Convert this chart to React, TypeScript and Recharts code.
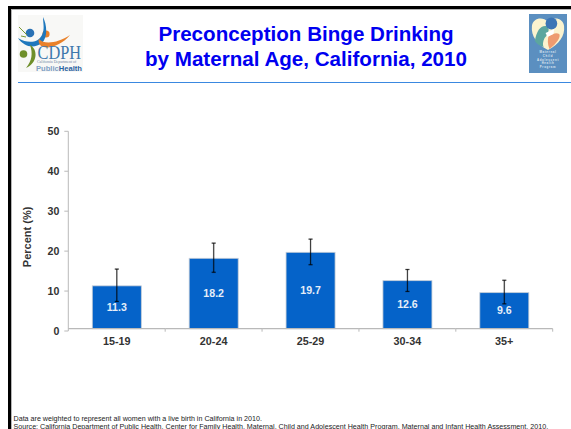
import React from 'react';
import { BarChart, Bar, XAxis, YAxis, ErrorBar, LabelList } from 'recharts';

const ageGroups = ['15-19', '20-24', '25-29', '30-34', '35+'];
const percents = [11.3, 18.2, 19.7, 12.6, 9.6];
const lowerBounds = [7.4, 14.7, 16.6, 9.9, 6.8];
const upperBounds = [15.5, 22.0, 23.0, 15.4, 12.7];
const percentTicks = [0, 10, 20, 30, 40, 50];

const titleLines = ['Preconception Binge Drinking', 'by Maternal Age, California, 2010'];
const footnotes = [
  'Data are weighted to represent all women with a live birth in California in 2010.',
  'Source: California Department of Public Health, Center for Family Health, Maternal, Child and Adolescent Health Program, Maternal and Infant Health Assessment, 2010.',
];

const rows = ageGroups.map((age, i) => ({
  age,
  percent: percents[i],
  ci: [percents[i] - lowerBounds[i], upperBounds[i] - percents[i]],
}));

const FONT = '"Liberation Sans", Arial, sans-serif';
const AXIS_GRAY = '#b9b9b9';
const TEXT_DARK = '#333333';
const BAR_BLUE = '#0563c9';
const CHART_W = 571;
const CHART_H = 429;
const PLOT_LEFT = 68.3;
const PLOT_RIGHT = 552.7;
const PLOT_TOP = 131.3;
const PLOT_BOTTOM = 331;
const HALF_BAND = (PLOT_RIGHT - PLOT_LEFT) / ageGroups.length / 2;
// the category axis sits a little above the zero tick
const BASELINE_LIFT = 2.3;

function AgeTick({ x, payload }: any) {
  const base = PLOT_BOTTOM - BASELINE_LIFT;
  return (
    <g>
      <line x1={x - HALF_BAND} x2={x + HALF_BAND} y1={base} y2={base} stroke={AXIS_GRAY} strokeWidth={1.2} />
      <line x1={x + HALF_BAND} x2={x + HALF_BAND} y1={base} y2={base + 3} stroke={AXIS_GRAY} />
      <text x={x} y={344.6} textAnchor="middle" fontFamily={FONT} fontWeight="bold" fontSize={10.8} fill={TEXT_DARK}>
        {payload.value}
      </text>
    </g>
  );
}

function TrimmedBar({ x, y, width, height }: any) {
  return (
    <rect
      x={x}
      y={y}
      width={width}
      height={height - BASELINE_LIFT}
      fill={BAR_BLUE}
      stroke="#c4ccd6"
      strokeWidth={0.8}
    />
  );
}

function CdphLogo() {
  return (
    <svg width={65} height={57} viewBox="0 0 65 57" style={{ position: 'absolute', left: 18, top: 15 }}>
      <rect width={65} height={57} fill="#f8f8f6" />
      <circle cx={12} cy={18} r={4.3} fill="#2a72b5" />
      <circle cx={28} cy={19} r={3.6} fill="#e9812a" />
      <path d="M0 23 C10 29 20 28 24 20 C27 14 25 8 25 2 C29 10 30 22 24 28 C16 34 6 32 0 23 Z" fill="#1f78bd" />
      <path d="M21 24 C26 30 40 28 52 20 C44 30 30 35 23 31 C21 29 20 26 21 24 Z" fill="#e9812a" />
      <path d="M1 12 L9 20 M3 21 L8 22" stroke="#7a9a35" strokeWidth={1} />
      <circle cx={5.5} cy={39} r={3.8} fill="#6f8f2a" />
      <path d="M12 30 C20 34 20 48 8 53 C14 46 15 38 12 30 Z" fill="#6f8f2a" />
      <g transform="translate(19.5 44) scale(0.86 1)">
        <text fontFamily='"Liberation Serif", serif' fontSize={19} fill="#3d78ad">
          CDPH
        </text>
      </g>
      <text x={19} y={48.2} fontFamily='"Liberation Serif", serif' fontSize={3.9} fill="#6f89a5">
        California Department of
      </text>
      <text x={18} y={55.6} fontFamily={FONT} fontWeight="bold" fontSize={7.6}>
        <tspan fill="#7f9fc4">Public</tspan>
        <tspan fill="#2a62a0">Health</tspan>
      </text>
    </svg>
  );
}

function McahLogo() {
  return (
    <svg width={38} height={59} viewBox="0 0 39 59" preserveAspectRatio="none" style={{ position: 'absolute', left: 529, top: 14 }}>
      <rect width={39} height={59} fill="#5b8fc0" />
      <path d="M19.5 36 C8 30 2 22 3 12 C4 4 14 2 19.5 8 C25 2 35 4 36 12 C37 22 31 30 19.5 36 Z" fill="#fbf3cf" />
      <path d="M6 27 C8 16 12 11 18 12 C22 14 20 20 16 24 C14 28 14 31 15 33 C11 32 8 30 6 27 Z" fill="#5ca69f" />
      <circle cx={23} cy={9.5} r={6} fill="#3d75b5" />
      <path d="M20 22 C24 20 28 18 31 20 C33 23 28 30 21 35 C19 30 19 26 20 22 Z" fill="#ee9b70" />
      <path d="M17 19 L26 15 L25 20 L19 23 Z" fill="#ffffff" />
      {['Maternal', 'Child', 'Adolescent', 'Health', 'Program'].map((word, i) => (
        <text
          key={word}
          x={19.5}
          y={39.5 + i * 3.6}
          textAnchor="middle"
          fontFamily={FONT}
          fontWeight="bold"
          fontSize={2.9}
          letterSpacing={0.7}
          fill="#dfe7f0"
        >
          {word}
        </text>
      ))}
    </svg>
  );
}

export default function App() {
  return (
    <div style={{ position: 'fixed', left: 0, top: 0, width: CHART_W, height: CHART_H, overflow: 'hidden', background: '#fff' }}>
      {/* slide frame */}
      <div style={{ position: 'absolute', left: 8, top: 6, width: 563, height: 3, background: '#000' }} />
      <div style={{ position: 'absolute', left: 8, top: 6, width: 3, height: 423, background: '#000' }} />
      <div style={{ position: 'absolute', left: 11, top: 9, width: 560, height: 1, background: '#b5b5b5' }} />
      <div style={{ position: 'absolute', left: 11, top: 9, width: 1, height: 420, background: '#b5b5b5' }} />

      <CdphLogo />
      <McahLogo />

      <div style={{ position: 'absolute', left: 96, top: 20.5, width: 420, textAlign: 'center', fontFamily: FONT, fontWeight: 'bold', fontSize: 20.6, lineHeight: '25px', color: '#0000f0' }}>
        {titleLines.map((line) => (
          <div key={line}>{line}</div>
        ))}
      </div>
      <div style={{ position: 'absolute', left: 18, top: 82, width: 553, height: 1, background: '#3a88e0' }} />

      <div style={{ position: 'absolute', left: 0, top: 0 }}>
        <BarChart
          width={CHART_W}
          height={CHART_H}
          data={rows}
          barSize={49}
          margin={{ top: PLOT_TOP, bottom: CHART_H - PLOT_BOTTOM - 20, left: PLOT_LEFT - 60, right: CHART_W - PLOT_RIGHT }}
        >
          <XAxis dataKey="age" height={20} axisLine={false} tickLine={false} interval={0} tick={<AgeTick />} />
          <YAxis
            width={60}
            domain={[0, 50]}
            ticks={percentTicks}
            interval={0}
            stroke={AXIS_GRAY}
            tickSize={4}
            tickMargin={5}
            tick={{ fontFamily: FONT, fontWeight: 'bold', fontSize: 10.6, fill: TEXT_DARK }}
            label={{
              value: 'Percent (%)',
              angle: -90,
              position: 'insideLeft',
              dx: 14,
              dy: 36,
              style: { fontFamily: FONT, fontWeight: 'bold', fontSize: 11, fill: TEXT_DARK },
            }}
          />
          <Bar dataKey="percent" isAnimationActive={false} shape={<TrimmedBar />}>
            <LabelList
              dataKey="percent"
              position="center"
              dy={-1.5}
              fill="#e6eef8"
              fontFamily={FONT}
              fontWeight="bold"
              fontSize={10.6}
            />
            {/* soft gray whisker with a thin dark core */}
            <ErrorBar dataKey="ci" width={2} stroke="#000" strokeOpacity={0.3} strokeWidth={1.6} isAnimationActive={false} />
            <ErrorBar dataKey="ci" width={2} stroke="#000" strokeOpacity={0.85} strokeWidth={0.8} isAnimationActive={false} />
          </Bar>
        </BarChart>
      </div>

      <div style={{ position: 'absolute', left: 13.5, top: 415, width: 550, fontFamily: FONT, fontSize: 7.15, lineHeight: '8px', color: '#222', whiteSpace: 'nowrap' }}>
        {footnotes.map((line) => (
          <div key={line}>{line}</div>
        ))}
      </div>
    </div>
  );
}
